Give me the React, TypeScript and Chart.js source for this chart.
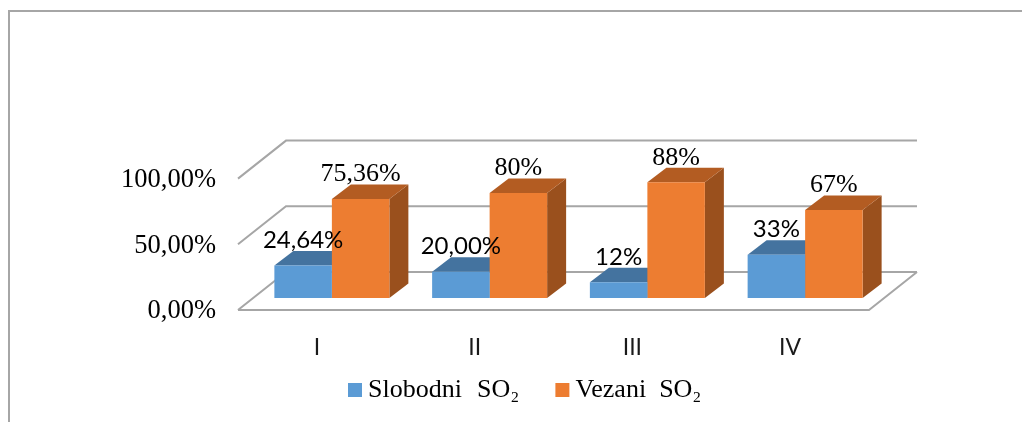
import React, { useEffect, useRef } from "react";
import { Chart, registerables } from "chart.js";

Chart.register(...registerables);

const categories = ["I", "II", "III", "IV"];
const seriesNames = ["Slobodni  \u200ASO\u2082    ", "Vezani  SO\u2082    "];
const slobodni = [24.64, 20, 12, 33];
const vezani = [75.36, 80, 88, 67];
const slobodniLabels = ["24,64%", "20,00%", "12%", "33%"];
const vezaniLabels = ["75,36%", "80%", "88%", "67%"];
const slobodniLabelSerif = [false, false, false, false];
const vezaniLabelSerif = [true, true, true, true];

const SERIF = '"Liberation Serif"';
const SANS = "Lato";
const GRID = "#a6a6a6";
const FACES = [
  { front: "#5b9bd5", top: "#44739f", side: "#44739f" },
  { front: "#ed7d31", top: "#b35c22", side: "#9a501d" },
];
const WALL = { dx: 48, dy: -38 };
const BAR_SHIFT = { dx: 15, dy: -12 };
const BAR_DEPTH = { dx: 19, dy: -14.5 };

const poly = (ctx: CanvasRenderingContext2D, pts: number[][], fill: string) => {
  ctx.beginPath();
  pts.forEach((p, i) => (i ? ctx.lineTo(p[0], p[1]) : ctx.moveTo(p[0], p[1])));
  ctx.closePath();
  ctx.fillStyle = fill;
  ctx.fill();
};

const chart3d = {
  id: "chart3d",
  afterLayout(chart: any) {
    const lg = chart.legend;
    const pad = chart.options.plugins.legend.labels.padding;
    lg.left = 355 - pad;
    lg.right = 1022;
    lg.top = 377 - pad;
  },
  beforeDatasetsDraw(chart: any) {
    const { ctx, chartArea } = chart;
    const y = chart.scales.y;
    const { left, right, bottom } = chartArea;
    ctx.save();
    ctx.strokeStyle = GRID;
    ctx.lineWidth = 2;
    // outer frame
    ctx.beginPath();
    ctx.moveTo(9, 422);
    ctx.lineTo(9, 11);
    ctx.lineTo(1022, 11);
    ctx.stroke();
    // walls
    y.ticks.forEach((t: any) => {
      const py = y.getPixelForValue(t.value);
      ctx.beginPath();
      ctx.moveTo(left, py);
      ctx.lineTo(left + WALL.dx, py + WALL.dy);
      ctx.lineTo(right + WALL.dx, py + WALL.dy);
      ctx.stroke();
    });
    // floor front
    ctx.beginPath();
    ctx.moveTo(left, bottom);
    ctx.lineTo(right, bottom);
    ctx.lineTo(right + WALL.dx, bottom + WALL.dy);
    ctx.stroke();
    ctx.restore();

    // depth faces
    ctx.save();
    ctx.translate(BAR_SHIFT.dx, BAR_SHIFT.dy);
    chart.data.datasets.forEach((_: any, di: number) => {
      chart.getDatasetMeta(di).data.forEach((bar: any) => {
        const l = bar.x - bar.width / 2;
        const r = bar.x + bar.width / 2;
        const t = bar.y;
        const b = bar.base;
        const { dx, dy } = BAR_DEPTH;
        poly(ctx, [[r, t], [r + dx, t + dy], [r + dx, b + dy], [r, b]], FACES[di].side);
        poly(ctx, [[l, t], [l + dx, t + dy], [r + dx, t + dy], [r, t]], FACES[di].top);
      });
    });
    ctx.restore();

    // fronts are drawn by the library, shifted onto the floor
    ctx.save();
    ctx.translate(BAR_SHIFT.dx, BAR_SHIFT.dy);
  },
  afterDatasetsDraw(chart: any) {
    const { ctx } = chart;
    ctx.restore();
    const texts = [slobodniLabels, vezaniLabels];
    const serif = [slobodniLabelSerif, vezaniLabelSerif];
    ctx.save();
    ctx.textAlign = "center";
    ctx.textBaseline = "alphabetic";
    ctx.fillStyle = "#000";
    chart.data.datasets.forEach((_: any, di: number) => {
      chart.getDatasetMeta(di).data.forEach((bar: any, i: number) => {
        ctx.font = serif[di][i] ? `26px ${SERIF}` : `24px ${SANS}`;
        ctx.fillText(texts[di][i], bar.x + BAR_SHIFT.dx, bar.y + BAR_SHIFT.dy - 17.5);
      });
    });
    ctx.restore();
  },
};

export default function App() {
  const ref = useRef<HTMLCanvasElement>(null);
  useEffect(() => {
    const chart = new Chart(ref.current as HTMLCanvasElement, {
      type: "bar",
      data: {
        labels: categories,
        datasets: [
          { label: seriesNames[0], data: slobodni, backgroundColor: FACES[0].front, borderWidth: 0 },
          { label: seriesNames[1], data: vezani, backgroundColor: FACES[1].front, borderWidth: 0 },
        ],
      },
      options: {
        responsive: false,
        animation: false,
        layout: { padding: { top: 178.6, left: 0, right: 153, bottom: 0 } },
        datasets: { bar: { categoryPercentage: 0.729, barPercentage: 1, clip: false } },
        scales: {
          x: {
            grid: { display: false },
            border: { display: false },
            ticks: { padding: 16, color: "#1a1a1a", font: { family: SANS, size: 23 } },
            afterFit(scale: any) {
              scale.height = 112 - (scale.chart.legend?.height || 0);
            },
          },
          y: {
            min: 0,
            max: 100,
            grid: { display: false, drawTicks: false },
            border: { display: false },
            ticks: {
              stepSize: 50,
              padding: 22,
              labelOffset: 1.5,
              color: "#000",
              font: { family: SERIF, size: 26.5 },
              callback: (v: any) => `${Number(v).toFixed(2).replace(".", ",")}%`,
            },
            afterFit(scale: any) {
              scale.width = 238;
            },
          },
        },
        plugins: {
          tooltip: { enabled: false },
          legend: {
            position: "bottom",
            align: "start",
            labels: {
              usePointStyle: true,
              pointStyle: "rect",
              boxWidth: 0.01,
              boxHeight: 14,
              padding: 17,
              color: "#000",
              font: { family: SERIF, size: 26 },
            },
          },
        },
      } as any,
      plugins: [chart3d],
    });
    return () => chart.destroy();
  }, []);
  return (
    <canvas
      ref={ref}
      width={1022}
      height={422}
      style={{ position: "absolute", left: 0, top: 0, display: "block" }}
    />
  );
}
